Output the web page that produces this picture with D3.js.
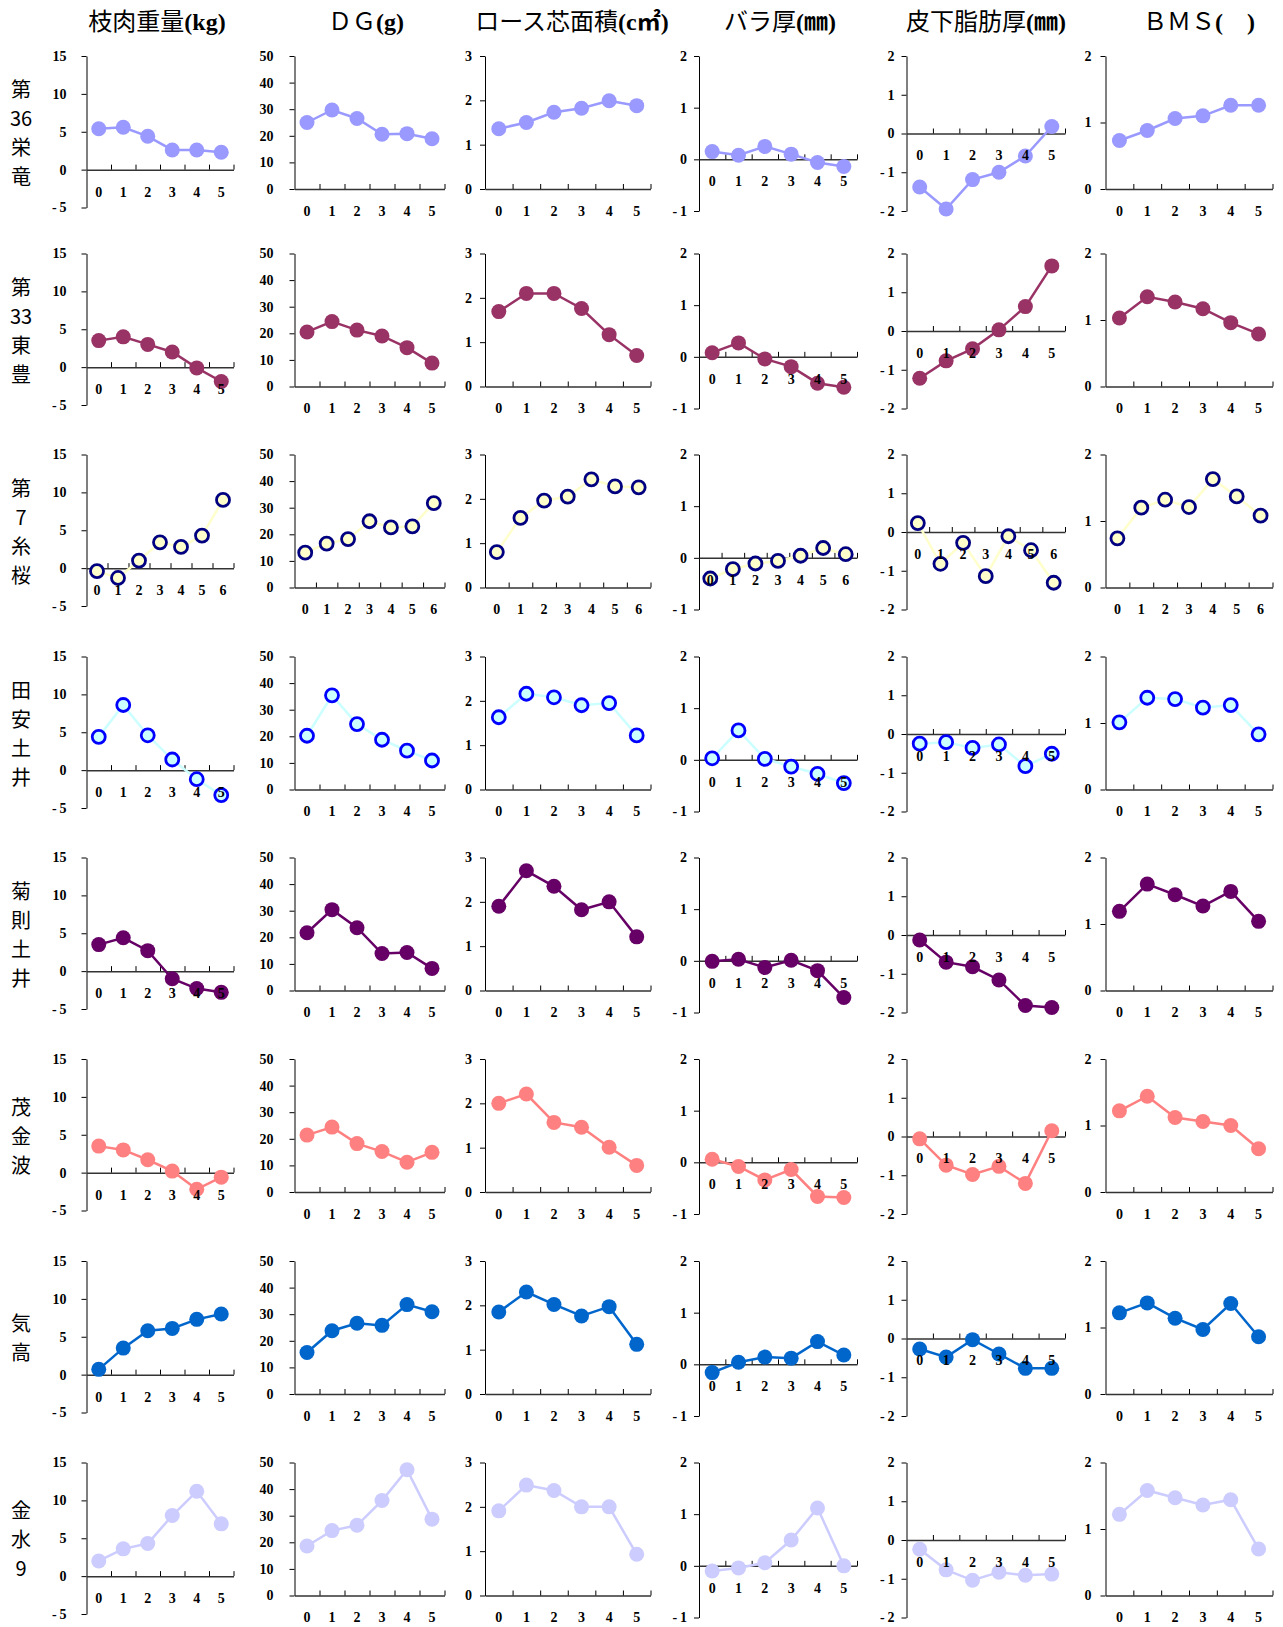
<!DOCTYPE html>
<html><head><meta charset="utf-8">
<script src="https://cdn.jsdelivr.net/npm/d3@7"></script>
<style>body{margin:0;background:#fff}</style>
</head><body>
<svg id="c" width="1283" height="1627"></svg>
<script>
// ---- data ----
const rowLabels = [["第","36","栄","竜"],["第","33","東","豊"],["第","7","糸","桜"],["田","安","土","井"],
                   ["菊","則","土","井"],["茂","金","波"],["気","高"],["金","水","9"]];
const titles = [["枝肉重量","(kg)"],["ＤＧ","(g)"],["ロース芯面積","(c㎡)"],["バラ厚","(㎜)"],["皮下脂肪厚","(㎜)"],["ＢＭＳ","(　)"]];
const categories6 = ["0","1","2","3","4","5"];
const categories7 = ["0","1","2","3","4","5","6"];
const yDomains = [[-5,15],[0,50],[0,3],[-1,2],[-2,2],[0,2]];
const yTicks = [[-5,0,5,10,15],[0,10,20,30,40,50],[0,1,2,3],[-1,0,1,2],[-2,-1,0,1,2],[0,1,2]];

const carcassWeight = [
  [5.4,5.6,4.4,2.6,2.6,2.3],
  [3.5,4.0,3.0,2.0,-0.1,-1.9],
  [-0.4,-1.3,1.0,3.4,2.8,4.3,9.0],
  [4.4,8.6,4.6,1.4,-1.2,-3.3],
  [3.5,4.4,2.7,-1.0,-2.3,-2.8],
  [3.5,3.0,1.7,0.2,-2.2,-0.6],
  [0.7,3.5,5.8,6.1,7.3,8.0],
  [2.0,3.6,4.3,8.0,11.2,6.9]];
const dg = [
  [25.0,29.7,26.5,20.6,20.8,18.9],
  [20.5,24.4,21.2,19.0,14.6,8.8],
  [13.1,16.5,18.2,24.9,22.6,23.0,31.7],
  [20.2,35.4,24.6,18.7,14.6,10.9],
  [21.7,30.4,23.6,13.9,14.3,8.3],
  [21.4,24.4,18.2,15.2,11.2,14.9],
  [15.6,23.8,26.6,25.8,33.6,30.9],
  [18.6,24.4,26.4,35.7,47.3,28.7]];
const ribeye = [
  [1.36,1.50,1.73,1.82,1.99,1.88],
  [1.69,2.10,2.10,1.76,1.17,0.70],
  [0.80,1.57,1.96,2.05,2.44,2.28,2.26],
  [1.63,2.16,2.08,1.90,1.95,1.22],
  [1.90,2.70,2.35,1.82,2.00,1.21],
  [2.00,2.21,1.57,1.46,1.01,0.60],
  [1.85,2.30,2.02,1.76,1.97,1.12],
  [1.91,2.49,2.37,2.00,2.00,0.93]];
const ribThickness = [
  [0.15,0.08,0.25,0.10,-0.06,-0.14],
  [0.08,0.27,-0.04,-0.19,-0.51,-0.59],
  [-0.40,-0.22,-0.11,-0.06,0.04,0.19,0.07],
  [0.03,0.57,0.02,-0.13,-0.27,-0.45],
  [-0.01,0.03,-0.13,0.01,-0.19,-0.71],
  [0.06,-0.08,-0.34,-0.14,-0.66,-0.68],
  [-0.16,0.04,0.14,0.12,0.44,0.18],
  [-0.10,-0.04,0.06,0.50,1.12,0.00]];
const subcutFat = [
  [-1.38,-1.95,-1.19,-1.00,-0.58,0.18],
  [-1.22,-0.77,-0.46,0.03,0.63,1.68],
  [0.23,-0.82,-0.28,-1.14,-0.11,-0.47,-1.31],
  [-0.25,-0.21,-0.36,-0.27,-0.83,-0.51],
  [-0.13,-0.70,-0.82,-1.16,-1.82,-1.87],
  [-0.06,-0.74,-0.98,-0.77,-1.21,0.15],
  [-0.27,-0.48,-0.03,-0.40,-0.77,-0.77],
  [-0.24,-0.77,-1.04,-0.83,-0.91,-0.88]];
const bms = [
  [0.73,0.88,1.06,1.10,1.26,1.26],
  [1.03,1.35,1.27,1.17,0.96,0.79],
  [0.74,1.20,1.32,1.21,1.63,1.37,1.08],
  [1.01,1.38,1.36,1.23,1.27,0.83],
  [1.19,1.60,1.44,1.27,1.49,1.04],
  [1.22,1.44,1.12,1.06,1.00,0.65],
  [1.22,1.37,1.14,0.97,1.36,0.86],
  [1.22,1.58,1.47,1.36,1.44,0.70]];
const traitData = [carcassWeight, dg, ribeye, ribThickness, subcutFat, bms];

// ---- styles / layout ----
const lineColors   = ["#9999FF","#993366","#FFFFCC","#CCFFFF","#660066","#FF8080","#0066CC","#CCCCFF"];
const markerFill   = ["#9999FF","#993366","#FFFFCC","#CCFFFF","#660066","#FF8080","#0066CC","#CCCCFF"];
const markerStroke = [null,null,"#000080","#0000FF",null,null,null,null];
const rowTop = [56, 253.5, 454.5, 656.5, 857.5, 1059, 1261, 1462.5];
const colX = [86.5, 294.5, 485, 699, 906.5, 1105.5];
const colW = [147, 150, 165.5, 158, 158.5, 167];
const colH = [151.5, 133, 133, 155, 155, 133];
const yGap = [20, 21, 13, 12, 12, 14];
const titleX = [157, 366, 572, 780, 986, 1199];
const numFont = "'Liberation Serif','Times New Roman',serif";
const cjkFont = "'Noto Sans CJK JP','Noto Sans',sans-serif";

const svg = d3.select("#c");

// column titles
titles.forEach((t, c) => {
  const tx = svg.append("text").attr("x", titleX[c]).attr("y", 30)
    .attr("text-anchor", "middle").attr("font-size", 24).attr("fill", "#000");
  tx.append("tspan").attr("font-family", cjkFont).text(t[0]);
  tx.append("tspan").attr("font-family", numFont + "," + cjkFont).attr("font-weight", "bold").text(t[1]);
});

// row labels (one vertical stack per row)
rowLabels.forEach((toks, r) => {
  const cy = rowTop[r] + 77;
  const n = toks.length;
  const t = svg.append("text").attr("text-anchor", "middle")
    .attr("font-family", cjkFont).attr("font-size", 20).attr("fill", "#000");
  toks.forEach((tk, i) => {
    t.append("tspan").attr("x", 21).attr("y", cy + (i - (n - 1) / 2) * 29 + 7.5).text(tk);
  });
});

function styleAxisText(sel) {
  sel.attr("font-family", numFont).attr("font-size", 14).attr("font-weight", "bold");
  sel.selectAll("text").attr("fill", "#000");
}

for (let r = 0; r < 8; r++) {
  for (let c = 0; c < 6; c++) {
    const vals = traitData[c][r];
    const cats = vals.length === 7 ? categories7 : categories6;
    const g = svg.append("g").attr("transform", `translate(${colX[c]},${rowTop[r]})`);
    const y = d3.scaleLinear().domain(yDomains[c]).range([colH[c], 0]);
    const x = d3.scaleBand().domain(cats).range([0, colW[c]]);
    const xl = d3.scaleLinear().domain([0, cats.length]).range([0, colW[c]]);

    // y axis
    const ya = g.append("g").call(d3.axisLeft(y).tickValues(yTicks[c]).tickSizeInner(5).tickSizeOuter(0)
      .tickPadding(yGap[c] - 5).tickFormat(d => d < 0 ? "-\u2009" + Math.abs(d) : String(d)));
    styleAxisText(ya);
    ya.selectAll("path,line").attr("stroke", "#000").attr("stroke-width", 1);

    // x axis line with upward ticks at category boundaries
    const xa = g.append("g").attr("transform", `translate(0,${y(0)})`)
      .call(d3.axisTop(xl).tickValues(d3.range(1, cats.length + 1)).tickSizeInner(5).tickSizeOuter(0).tickFormat(""));
    xa.selectAll("path").attr("stroke", "#333").attr("stroke-width", 1.5);
    xa.selectAll("line").attr("stroke", "#000").attr("stroke-width", 1);

    // series line
    const line = d3.line().x((d, i) => x(cats[i]) + x.bandwidth() / 2).y(d => y(d));
    g.append("path").datum(vals).attr("d", line).attr("fill", "none")
      .attr("stroke", lineColors[r]).attr("stroke-width", 2.5);

    // markers
    const hollow = markerStroke[r] !== null;
    g.selectAll("circle.m").data(vals).join("circle").attr("class", "m")
      .attr("cx", (d, i) => x(cats[i]) + x.bandwidth() / 2).attr("cy", d => y(d))
      .attr("r", hollow ? 6.5 : 7.5).attr("fill", markerFill[r])
      .attr("stroke", hollow ? markerStroke[r] : "none").attr("stroke-width", hollow ? 2.8 : 0);

    // category labels (drawn on top)
    const la = g.append("g").attr("transform", `translate(0,${y(0)})`)
      .call(d3.axisBottom(x).tickSize(0).tickPadding(17));
    la.select(".domain").remove();
    styleAxisText(la);
  }
}
</script>
</body></html>
